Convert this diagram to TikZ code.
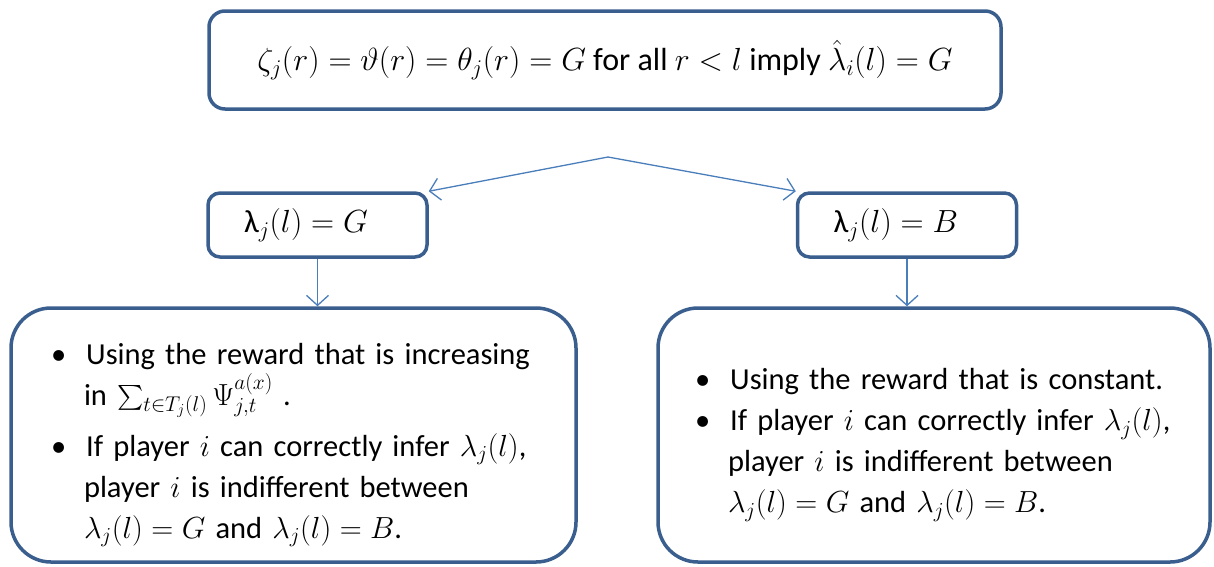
\documentclass[tikz,border=0pt]{standalone}
\usepackage{fix-cm}
\usepackage{amsmath}
\usepackage{fontspec}
\setmainfont{Carlito}
\usepackage{enumitem}
\setlist[itemize]{label=\textbullet, leftmargin=33pt, labelindent=0pt,
  labelwidth=13pt, labelsep=20pt, align=left, itemsep=0pt, topsep=0pt,
  parsep=0pt, partopsep=0pt}
\definecolor{bxBlue}{HTML}{3A5F8E}
\definecolor{arBlue}{HTML}{4A7EBB}
\usetikzlibrary{arrows.meta}

\begin{document}
\begin{tikzpicture}[x=1pt, y=-1pt,
  frame/.style={draw=bxBlue, line width=3.5pt, fill=white,
              font=\fontsize{32}{41}\selectfont},
  cond/.style={frame, rounded corners=16pt, minimum width=792pt,
              minimum height=98pt, inner sep=0pt},
  case/.style={frame, rounded corners=12pt, inner xsep=36pt, inner ysep=0pt,
              text width=147pt, minimum height=64pt, align=left},
  res/.style={frame, rounded corners=40pt, inner xsep=40pt, inner ysep=0pt,
              minimum height=254pt, align=left,
              font=\fontsize{30.5}{41}\selectfont},
  link/.style={-{Straight Barb[length=10pt,width=22pt]}, draw=arBlue,
              line width=1.3pt}]
  \useasboundingbox (0,0) rectangle (1214,566);

  \node[cond] (cond) at (605,60)
    {$\zeta_j(r)=\vartheta(r)=\theta_j(r)=G$ for all $r<l$ imply $\hat{\lambda}_i(l)=G$};

  \node[case] (good) at (317.5,225) {$\text{λ}_j(l)=G$};
  \node[case] (bad)  at (907,225)   {$\text{λ}_j(l)=B$};

  \node[res, text width=485pt] (goodres) at (293.5,435) {%
    \begin{itemize}
      \item Using the reward that is increasing\newline
        in $\sum_{t\in T_j(l)}\Psi^{a(x)}_{j,t}$ .\rule[-27pt]{0pt}{10pt}
      \item If player $i$ can correctly infer $\lambda_j(l)$,\newline
        player $i$ is indifferent between\newline
        $\lambda_j(l)=G$ and $\lambda_j(l)=B$.
    \end{itemize}};
  \node[res, inner xsep=37pt, text width=478pt] (badres) at (934,435) {%
    \begin{itemize}
      \item Using the reward that is constant.
      \item If player $i$ can correctly infer $\lambda_j(l)$,\newline
        player $i$ is indifferent between\newline
        $\lambda_j(l)=G$ and $\lambda_j(l)=B$.
    \end{itemize}\vspace{18pt}};

  \coordinate (split) at (608,157);
  \draw[link] (split) -- (good.north east);
  \draw[link] (split) -- (bad.north west);
  \draw[link] (good.south) -- (good.south |- goodres.north);
  \draw[link] (bad.south) -- (bad.south |- badres.north);
\end{tikzpicture}
\end{document}
